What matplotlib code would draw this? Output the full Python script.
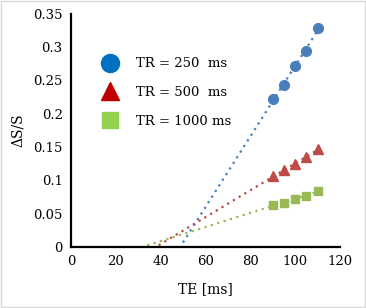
import numpy as np
import matplotlib
matplotlib.use("Agg")
import matplotlib.pyplot as plt
from matplotlib.lines import Line2D
from matplotlib.patches import Rectangle

te = [90, 95, 100, 105, 110]
tr250 = [0.222, 0.243, 0.272, 0.294, 0.329]
tr500 = [0.106, 0.116, 0.124, 0.135, 0.147]
tr1000 = [0.063, 0.066, 0.072, 0.077, 0.084]
labels = ["TR = 250  ms", "TR = 500  ms", "TR = 1000 ms"]

plt.rcParams['font.family'] = ['DejaVu Serif']
fig = plt.figure(figsize=(3.66, 3.08), dpi=100)
ax = fig.add_axes([0.194, 0.198, 0.735, 0.757])

series = [(tr250, 'o', '#4a7ebb', 7), (tr500, '^', '#be4b48', 7), (tr1000, 's', '#98b954', 6.3)]
xf = np.linspace(34, 110, 200)
for ys, m, c, ms in series:
    k, b = np.polyfit(te, ys, 1)
    ax.plot(xf, k * xf + b, linestyle=(0, (1, 2)), color=c, lw=1.6, zorder=2)
    ax.plot(te, ys, linestyle='none', marker=m, color=c, markersize=ms, zorder=3)

ax.set_xlim(0, 120)
ax.set_ylim(0, 0.35)
ax.set_xticks(np.arange(0, 121, 20))
ax.set_yticks([0, 0.05, 0.1, 0.15, 0.2, 0.25, 0.3, 0.35])
ax.set_yticklabels(['0', '0.05', '0.1', '0.15', '0.2', '0.25', '0.3', '0.35'])
ax.tick_params(length=0, labelsize=9.5, pad=6)
for s in ['top', 'right']:
    ax.spines[s].set_visible(False)
for s in ['left', 'bottom']:
    ax.spines[s].set_linewidth(1.6)
ax.set_xlabel('TE [ms]', fontsize=10, labelpad=10)
ax.set_ylabel('ΔS/S', fontsize=10, labelpad=6)

handles = [Line2D([], [], linestyle='none', marker='o', color='#0070c0', markersize=13),
           Line2D([], [], linestyle='none', marker='^', color='#c00000', markersize=13),
           Line2D([], [], linestyle='none', marker='s', color='#92d050', markersize=12)]
ax.legend(handles, labels, loc='upper left', bbox_to_anchor=(0.05, 0.865), frameon=False,
          fontsize=9.5, handletextpad=1.0, labelspacing=1.2)

fig.patches.append(Rectangle((0.003, 0.003), 0.994, 0.994, transform=fig.transFigure,
                             fill=False, edgecolor='#d9d9d9', lw=1))
fig.savefig('out.png', dpi=100)
